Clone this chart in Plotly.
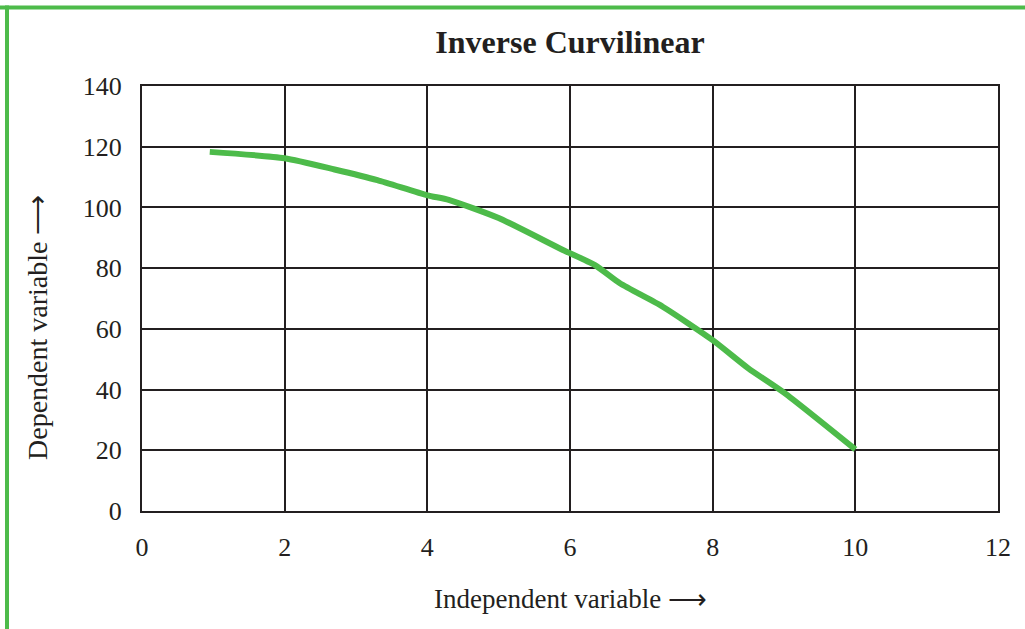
import plotly.graph_objects as go

# Inverse curvilinear relationship: dependent variable falls faster as x grows
independent = [0.95, 2.0, 2.7, 3.3, 4.0, 4.3, 5.0, 5.9, 6.35, 6.7, 7.3, 8.0, 8.5, 9.0, 10.0]
dependent = [118.3, 116.2, 112.5, 109.0, 104.0, 102.5, 96.5, 86.0, 81.0, 75.0, 67.3, 56.3, 47.0, 39.0, 20.3]

x_ticks = [0, 2, 4, 6, 8, 10, 12]
y_ticks = [0, 20, 40, 60, 80, 100, 120, 140]

GREEN = "#4dbb4a"
INK = "#231f20"
SERIF = "Liberation Serif, Times New Roman, serif"

fig = go.Figure()
fig.add_trace(go.Scatter(
    x=independent, y=dependent, mode="lines",
    line=dict(color=GREEN, width=6, shape="spline", smoothing=0.6),
    hoverinfo="skip", showlegend=False,
))

axis_common = dict(
    showgrid=True, gridcolor=INK, gridwidth=2,
    showline=True, linecolor=INK, linewidth=2, mirror=True,
    zeroline=False, ticks="", tickfont=dict(family=SERIF, size=26, color=INK),
)

fig.update_layout(
    width=1025, height=629,
    margin=dict(l=142, r=27, t=86, b=118),
    paper_bgcolor="white", plot_bgcolor="white",
    title=dict(text="<b>Inverse Curvilinear</b>", xref="paper", x=0.5, xanchor="center",
               y=1 - 42 / 629, yanchor="middle",
               font=dict(family=SERIF, size=32, color=INK)),
    xaxis=dict(range=[0, 12], tickvals=x_ticks, ticklabelstandoff=12, **axis_common),
    yaxis=dict(range=[0, 140], tickvals=y_ticks, ticklabelstandoff=13, **axis_common),
    annotations=[
        dict(text="Independent variable \u27f6", xref="paper", yref="paper",
             x=0.5, y=-0.207, xanchor="center", yanchor="middle", showarrow=False,
             font=dict(family=SERIF, size=27, color=INK)),
        dict(text="Dependent variable \u27f6", xref="paper", yref="paper",
             x=-0.1215, y=0.433, xanchor="center", yanchor="middle", showarrow=False,
             textangle=-90, font=dict(family=SERIF, size=28, color=INK)),
    ],
    shapes=[
        dict(type="line", xref="paper", yref="paper", x0=-0.17, x1=1.04,
             y0=(511 - 7.5) / 425, y1=(511 - 7.5) / 425, line=dict(color=GREEN, width=4)),
        dict(type="line", xref="paper", yref="paper", x0=(7 - 142) / 856, x1=(7 - 142) / 856,
             y0=(511 - 5.5) / 425, y1=-0.3, line=dict(color=GREEN, width=4)),
    ],
)

fig.write_html("out.html")
